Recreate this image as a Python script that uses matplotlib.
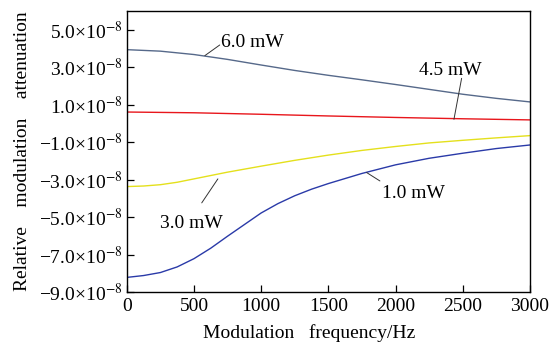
import numpy as np
import matplotlib
matplotlib.use("Agg")
import matplotlib.pyplot as plt
from matplotlib.ticker import FuncFormatter

# Modulation frequency (Hz) and relative modulation attenuation (units of 1e-8)
freq_6_0 = [0, 250, 500, 750, 1000, 1250, 1500, 1750, 2000, 2250, 2500, 2750, 3000]
att_6_0mw = [3.94, 3.86, 3.68, 3.42, 3.12, 2.83, 2.57, 2.33, 2.08, 1.82, 1.56, 1.34, 1.15]

freq_4_5 = [0, 500, 1000, 1500, 2000, 2500, 3000]
att_4_5mw = [0.61, 0.57, 0.49, 0.40, 0.32, 0.25, 0.19]

freq_3_0 = [0, 125, 250, 375, 500, 750, 1000, 1250, 1500, 1750, 2000, 2250, 2500, 2750, 3000]
att_3_0mw = [-3.37, -3.34, -3.27, -3.14, -2.96, -2.60, -2.28, -1.97, -1.69, -1.44, -1.23,
             -1.04, -0.90, -0.77, -0.65]

freq_1_0 = [0, 125, 250, 375, 500, 625, 750, 875, 1000, 1125, 1250, 1375, 1500,
            1750, 2000, 2250, 2500, 2750, 3000]
att_1_0mw = [-8.22, -8.12, -7.96, -7.66, -7.22, -6.66, -6.02, -5.40, -4.78, -4.28, -3.86,
             -3.51, -3.21, -2.67, -2.21, -1.86, -1.59, -1.34, -1.15]

labels = ["6.0 mW", "4.5 mW", "3.0 mW", "1.0 mW"]

plt.rcParams['font.family'] = ['Liberation Serif', 'DejaVu Serif']
plt.rcParams['mathtext.fontset'] = 'stix'

fig = plt.figure(figsize=(5.56, 3.46), dpi=100)
ax = fig.add_axes([0.228, 0.156, 0.725, 0.812])

scale = 1e-8
ax.plot(freq_6_0, np.array(att_6_0mw) * scale, color='#56698a', lw=1.0)
ax.plot(freq_4_5, np.array(att_4_5mw) * scale, color='#e8161c', lw=1.0)
ax.plot(freq_3_0, np.array(att_3_0mw) * scale, color='#e4e01c', lw=1.0)
ax.plot(freq_1_0, np.array(att_1_0mw) * scale, color='#2a3aa8', lw=1.0)

ax.set_xlim(0, 3000)
ax.set_ylim(-9.0e-8, 6.0e-8)
ax.set_xticks(np.arange(0, 3001, 500))
ax.set_yticks(np.arange(-9, 6, 2) * scale)


def fmt(v, pos):
    m = v / scale
    s = f"{abs(m):.1f}×10$^{{-8}}$"
    return ("\u2212" + s) if m < -1e-9 else s


ax.yaxis.set_major_formatter(FuncFormatter(fmt))
ax.tick_params(direction='in', length=5, width=0.9, labelsize=14, pad=3)
ax.tick_params(axis='x', pad=4)
for sp in ax.spines.values():
    sp.set_linewidth(1.0)

ax.set_xlabel("Modulation   frequency/Hz", fontsize=14)
ax.xaxis.set_label_coords(0.452, -0.115)
ax.set_ylabel("Relative    modulation    attenuation", fontsize=14, labelpad=6)

# curve labels and leader lines
tkw = dict(fontsize=14, ha='center', va='baseline')
lkw = dict(arrowprops=dict(arrowstyle='-', lw=0.7, color='#333333', shrinkA=0, shrinkB=0))
ax.text(934, 4.08e-8, labels[0], **tkw)
ax.annotate("", xy=(581, 3.62e-8), xytext=(692, 4.19e-8), **lkw)
ax.text(2405, 2.59e-8, labels[1], **tkw)
ax.annotate("", xy=(2435, 0.22e-8), xytext=(2492, 2.41e-8), **lkw)
ax.text(480, -5.57e-8, labels[2], **tkw)
ax.annotate("", xy=(678, -2.96e-8), xytext=(558, -4.24e-8), **lkw)
ax.text(2137, -3.97e-8, labels[3], **tkw)
ax.annotate("", xy=(1785, -2.62e-8), xytext=(1884, -3.07e-8), **lkw)

fig.savefig("out.png", dpi=100)
